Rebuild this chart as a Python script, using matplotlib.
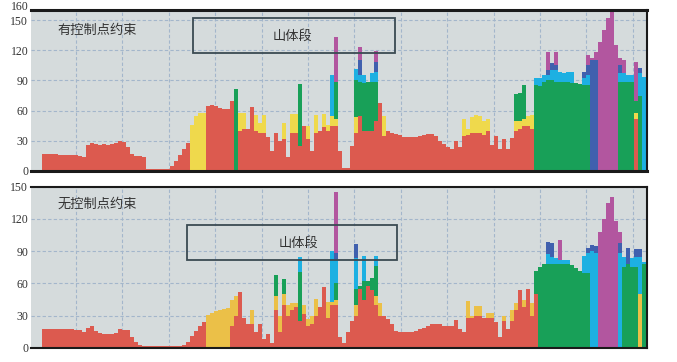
import matplotlib
matplotlib.use("Agg")
import matplotlib.pyplot as plt
from matplotlib.patches import Rectangle
import numpy as np

plt.rcParams['font.family'] = ['Liberation Serif', 'Noto Sans CJK SC']

# ---------------- data: top panel (有控制点约束) ----------------
top_red = [17,17,17,17,16,16,16,16,16,15,
           14,26,28,27,26,27,26,27,28,30,
           29,24,17,15,15,14,2,2,2,2,
           2,2,5,10,16,22,28,0,0,0,
           0,65,66,65,63,62,62,70,0,40,
           42,42,64,40,38,38,34,20,38,30,
           32,14,38,38,25,45,32,20,38,40,
           44,40,45,45,20,3,3,25,38,55,
           40,40,40,50,68,35,40,38,37,36,
           34,34,34,34,35,36,37,37,35,30,
           27,24,22,30,24,35,36,38,38,38,
           36,40,26,35,22,32,22,33,40,42,
           45,45,42,0,0,0,0,0,0,0,
           0,0,0,0,0,0,0,0,0,0,
           0,0,0,0,0,0,0,0,52,0,
           0]
top_yellow = [0,0,0,0,0,0,0,0,0,0,
              0,0,0,0,0,0,0,0,0,0,
              0,0,0,0,0,0,0,0,0,0,
              0,0,0,0,0,0,0,46,55,58,
              58,0,0,0,0,0,0,0,0,58,
              58,0,0,56,48,56,0,0,0,0,
              48,0,57,57,0,0,45,0,56,0,
              57,46,55,52,0,0,0,0,54,0,
              0,0,0,0,0,55,0,0,0,0,
              0,0,0,0,0,0,0,0,0,0,
              0,0,0,0,0,52,42,54,56,55,
              50,52,0,0,0,0,0,0,50,50,
              52,55,56,0,0,0,0,0,0,0,
              0,0,0,0,0,0,0,0,0,0,
              0,0,0,0,0,0,0,0,58,0,
              0]
top_green = [0,0,0,0,0,0,0,0,0,0,
             0,0,0,0,0,0,0,0,0,0,
             0,0,0,0,0,0,0,0,0,0,
             0,0,0,0,0,0,0,0,0,0,
             0,0,0,0,0,0,0,0,81,0,
             0,0,0,0,0,0,0,0,0,0,
             0,0,0,0,86,0,0,0,0,0,
             0,0,0,88,0,0,0,0,90,88,
             87,88,88,88,0,0,0,0,0,0,
             0,0,0,0,0,0,0,0,0,0,
             0,0,0,0,0,0,0,0,0,0,
             0,0,0,0,0,0,0,0,77,78,
             85,0,0,85,84,88,90,90,88,88,
             88,88,87,87,86,85,85,0,0,0,
             0,0,0,0,88,88,88,88,70,75,
             0]
top_cyan = [0,0,0,0,0,0,0,0,0,0,
            0,0,0,0,0,0,0,0,0,0,
            0,0,0,0,0,0,0,0,0,0,
            0,0,0,0,0,0,0,0,0,0,
            0,0,0,0,0,0,0,0,0,0,
            0,0,0,0,0,0,0,0,0,0,
            0,0,0,0,0,0,0,0,0,0,
            0,0,95,0,0,0,0,0,101,95,
            95,0,97,98,0,0,0,0,0,0,
            0,0,0,0,0,0,0,0,0,0,
            0,0,0,0,0,0,0,0,0,0,
            0,0,0,0,0,0,0,0,0,0,
            0,0,0,92,92,95,95,100,100,98,
            97,98,98,0,0,92,95,0,0,0,
            0,0,0,0,97,97,95,95,0,97,
            93]
top_blue = [0,0,0,0,0,0,0,0,0,0,
            0,0,0,0,0,0,0,0,0,0,
            0,0,0,0,0,0,0,0,0,0,
            0,0,0,0,0,0,0,0,0,0,
            0,0,0,0,0,0,0,0,0,0,
            0,0,0,0,0,0,0,0,0,0,
            0,0,0,0,0,0,0,0,0,0,
            0,0,0,0,0,0,0,0,0,110,
            0,0,0,108,0,0,0,0,0,0,
            0,0,0,0,0,0,0,0,0,0,
            0,0,0,0,0,0,0,0,0,0,
            0,0,0,0,0,0,0,0,0,0,
            0,0,0,0,0,0,100,107,105,0,
            0,0,0,0,0,98,105,110,110,0,
            0,0,0,0,105,0,0,0,0,102,
            0]
top_magenta = [0,0,0,0,0,0,0,0,0,0,
               0,0,0,0,0,0,0,0,0,0,
               0,0,0,0,0,0,0,0,0,0,
               0,0,0,0,0,0,0,0,0,0,
               0,0,0,0,0,0,0,0,0,0,
               0,0,0,0,0,0,0,0,0,0,
               0,0,0,0,0,0,0,0,0,0,
               0,0,0,133,0,0,0,0,0,123,
               0,0,0,119,0,0,0,0,0,0,
               0,0,0,0,0,0,0,0,0,0,
               0,0,0,0,0,0,0,0,0,0,
               0,0,0,0,0,0,0,0,0,0,
               0,0,0,0,0,0,118,0,118,0,
               0,0,0,0,0,0,115,112,118,128,
               140,152,158,125,112,110,0,0,108,0,
               0]

# ---------------- data: bottom panel (无控制点约束) ----------------
bot_red = [18,18,18,18,18,18,18,18,17,17,
           15,19,20,16,14,13,13,13,14,18,
           17,17,10,6,3,2,2,2,2,2,
           2,2,2,2,2,3,6,11,16,20,
           24,0,0,0,0,0,0,20,30,52,
           28,22,22,15,22,8,13,5,35,15,
           40,30,35,38,25,32,20,22,30,38,
           57,28,40,40,10,5,15,25,30,55,
           45,58,54,40,30,30,27,22,16,15,
           15,15,15,16,18,19,20,22,22,22,
           20,20,20,26,18,15,28,28,30,30,
           28,28,28,24,10,25,18,25,35,54,
           38,55,30,50,0,0,0,0,0,0,
           0,0,0,0,0,0,0,0,0,0,
           0,0,0,0,0,0,0,0,0,0,
           0]
bot_yellow = [0,0,0,0,0,0,0,0,0,0,
              0,0,0,0,0,0,0,0,0,0,
              0,0,0,0,0,0,0,0,0,0,
              0,0,0,0,0,0,0,0,0,0,
              0,31,33,34,35,36,37,45,48,0,
              0,0,35,0,0,0,0,0,48,30,
              50,40,42,42,0,40,27,30,46,0,
              0,43,43,45,0,0,0,0,40,45,
              0,48,0,48,42,0,0,0,0,0,
              0,0,0,0,0,0,0,0,0,0,
              0,0,0,0,0,0,44,30,39,39,
              0,33,33,0,0,30,0,35,42,0,
              45,0,42,0,0,0,0,0,0,0,
              0,0,0,0,0,0,0,0,0,0,
              0,0,0,0,0,0,0,0,0,50,
              0]
bot_green = [0,0,0,0,0,0,0,0,0,0,
             0,0,0,0,0,0,0,0,0,0,
             0,0,0,0,0,0,0,0,0,0,
             0,0,0,0,0,0,0,0,0,0,
             0,0,0,0,0,0,0,0,0,0,
             0,0,0,0,0,0,0,0,68,0,
             64,0,0,0,71,0,0,0,0,0,
             0,0,0,60,0,0,0,0,55,58,
             62,62,65,76,0,0,0,0,0,0,
             0,0,0,0,0,0,0,0,0,0,
             0,0,0,0,0,0,0,0,0,0,
             0,0,0,0,0,0,0,0,0,0,
             0,0,0,72,75,78,78,78,78,78,
             78,78,77,74,72,70,70,0,0,0,
             0,0,0,0,0,75,78,75,75,0,
             78]
bot_cyan = [0,0,0,0,0,0,0,0,0,0,
            0,0,0,0,0,0,0,0,0,0,
            0,0,0,0,0,0,0,0,0,0,
            0,0,0,0,0,0,0,0,0,0,
            0,0,0,0,0,0,0,0,0,0,
            0,0,0,0,0,0,0,0,0,0,
            0,0,0,0,85,0,0,0,0,0,
            0,0,90,83,0,0,0,0,84,0,
            86,0,0,86,0,0,0,0,0,0,
            0,0,0,0,0,0,0,0,0,0,
            0,0,0,0,0,0,0,0,0,0,
            0,0,0,0,0,0,0,0,0,0,
            0,0,0,0,0,0,87,85,84,82,
            82,82,0,0,0,86,88,90,88,0,
            0,0,0,0,88,85,0,84,85,85,
            80]
bot_blue = [0,0,0,0,0,0,0,0,0,0,
            0,0,0,0,0,0,0,0,0,0,
            0,0,0,0,0,0,0,0,0,0,
            0,0,0,0,0,0,0,0,0,0,
            0,0,0,0,0,0,0,0,0,0,
            0,0,0,0,0,0,0,0,0,0,
            0,0,0,0,0,0,0,0,0,0,
            0,0,0,88,0,0,0,0,97,0,
            0,0,0,0,0,0,0,0,0,0,
            0,0,0,0,0,0,0,0,0,0,
            0,0,0,0,0,0,0,0,0,0,
            0,0,0,0,0,0,0,0,0,0,
            0,0,0,0,0,0,99,98,0,0,
            0,0,0,0,0,0,93,96,95,0,
            0,0,0,0,98,0,93,0,92,92,
            0]
bot_magenta = [0,0,0,0,0,0,0,0,0,0,
               0,0,0,0,0,0,0,0,0,0,
               0,0,0,0,0,0,0,0,0,0,
               0,0,0,0,0,0,0,0,0,0,
               0,0,0,0,0,0,0,0,0,0,
               0,0,0,0,0,0,0,0,0,0,
               0,0,0,0,0,0,0,0,0,0,
               0,0,0,145,0,0,0,0,0,0,
               0,0,0,0,0,0,0,0,0,0,
               0,0,0,0,0,0,0,0,0,0,
               0,0,0,0,0,0,0,0,0,0,
               0,0,0,0,0,0,0,0,0,0,
               0,0,0,0,0,0,0,0,0,100,
               0,0,0,0,0,0,0,0,0,108,
               120,135,140,118,108,0,0,0,0,0,
               0]

top_yticks = [0, 30, 60, 90, 120, 150, 160]
bot_yticks = [0, 30, 60, 90, 120, 150]
top_label = '有控制点约束'
bot_label = '无控制点约束'
box_label = '山体段'

# ---------------- style ----------------
C_RED = '#dc5a4f'
C_YEL_TOP = '#efd94c'
C_YEL_BOT = '#ebc048'
C_GRN = '#18a058'
C_CYN = '#1db0e2'
C_BLU = '#4060ae'
C_MAG = '#b2569f'
BG = '#d5dbdc'
GRID = '#a3b6cb'

fig = plt.figure(figsize=(6.77, 3.62), dpi=100)
fig.patch.set_facecolor('white')

ax1 = fig.add_axes([31/677, 1-171/362, 616/677, 161/362])
ax2 = fig.add_axes([31/677, 1-348/362, 616/677, 161.3/362])

grid_x = [8 + 11.6*k for k in range(13)]


def draw(ax, red, yel, grn, cyn, blu, mag, ymax, yticks, ycol):
    x = np.arange(len(red))
    for vals, c in [(mag, C_MAG), (blu, C_BLU), (cyn, C_CYN),
                    (grn, C_GRN), (yel, ycol), (red, C_RED)]:
        ax.bar(x, vals, width=1.0, color=c, linewidth=0, align='center',
               antialiased=False, zorder=2)
    ax.set_facecolor(BG)
    ax.set_xlim(-3.25, 150.75)
    ax.set_ylim(0, ymax)
    ax.set_xticks(grid_x)
    ax.set_xticklabels([])
    ax.set_yticks(yticks)
    ax.set_yticklabels([str(t) for t in yticks], fontsize=8.5,
                       family='Liberation Serif', color='#333333')
    ax.tick_params(axis='both', length=0, pad=2)
    ax.grid(True, color=GRID, linestyle=(0, (3, 2)), linewidth=0.8)
    ax.set_axisbelow(True)
    ax.spines['left'].set_visible(False)
    for s in ['top', 'bottom', 'right']:
        ax.spines[s].set_color('#1a1a1a')
        ax.spines[s].set_linewidth(1.5)
        ax.spines[s].set_zorder(5)


draw(ax1, top_red, top_yellow, top_green, top_cyan, top_blue, top_magenta,
     160, top_yticks, C_YEL_TOP)
draw(ax2, bot_red, bot_yellow, bot_green, bot_cyan, bot_blue, bot_magenta,
     150, bot_yticks, C_YEL_BOT)
ax1.spines['top'].set_linewidth(2.2)
ax1.spines['bottom'].set_linewidth(2.2)
# keep the 160 / 150 labels from touching: 160 sits on the top line
ax1.get_yticklabels()[-1].set_va('baseline')

ax1.text(13.25, 139.4, top_label, family='Noto Sans CJK SC', fontsize=9.5,
         ha='center', va='center', color='#333333', zorder=6)
ax2.text(13.25, 134, bot_label, family='Noto Sans CJK SC', fontsize=9.5,
         ha='center', va='center', color='#333333', zorder=6)

ax1.add_patch(Rectangle((37.25, 117), 50.5, 35, fill=False, ec='#3a4a52',
                        lw=1.3, zorder=6))
ax1.text(62, 133.5, box_label, family='Noto Sans CJK SC', fontsize=9.5,
         ha='center', va='center', color='#333333', zorder=6)
ax2.add_patch(Rectangle((35.75, 82), 52.5, 32.6, fill=False, ec='#3a4a52',
                        lw=1.3, zorder=6))
ax2.text(63.5, 97.6, box_label, family='Noto Sans CJK SC', fontsize=9.5,
         ha='center', va='center', color='#333333', zorder=6)

fig.savefig('out.png', dpi=100, facecolor='white')
